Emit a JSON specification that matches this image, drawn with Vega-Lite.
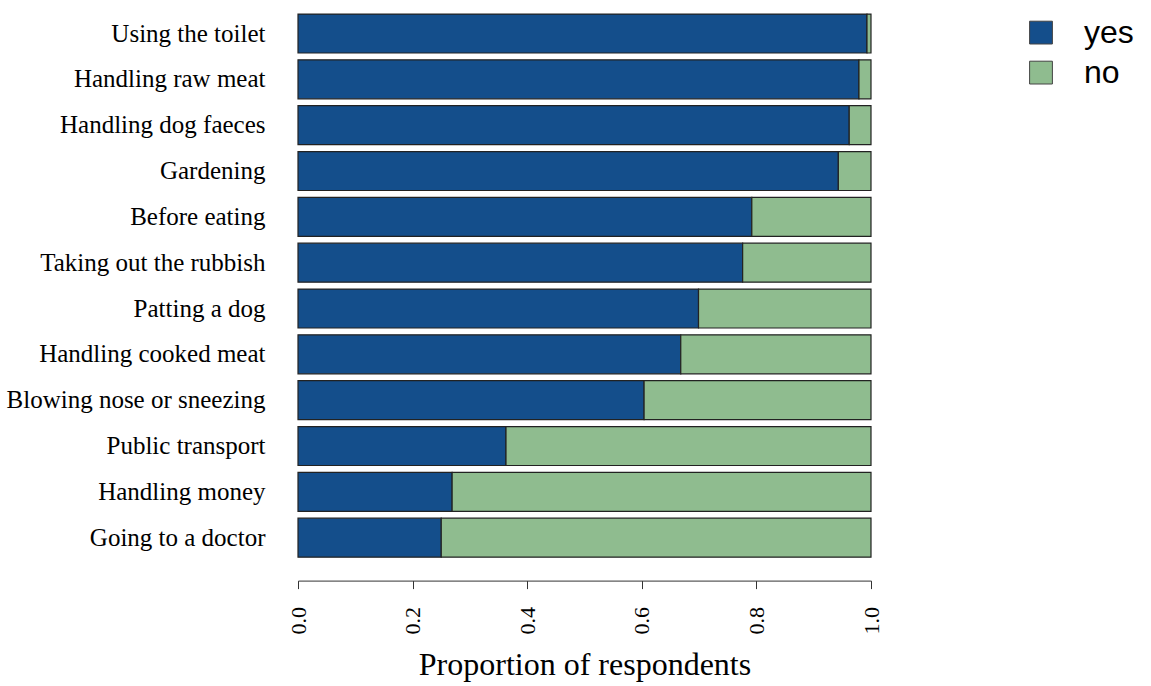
{
  "$schema": "https://vega.github.io/schema/vega-lite/v6.json",
  "width": 573,
  "height": 550,
  "autosize": {"type": "none"},
  "padding": {"left": 298, "top": 10.6, "right": 280, "bottom": 125.4},
  "background": "white",
  "data": {
    "values": [
      {"activity": "Using the toilet", "response": "yes", "order": 1, "proportion": 0.993},
      {"activity": "Using the toilet", "response": "no", "order": 2, "proportion": 0.007},
      {"activity": "Handling raw meat", "response": "yes", "order": 1, "proportion": 0.979},
      {"activity": "Handling raw meat", "response": "no", "order": 2, "proportion": 0.021},
      {"activity": "Handling dog faeces", "response": "yes", "order": 1, "proportion": 0.962},
      {"activity": "Handling dog faeces", "response": "no", "order": 2, "proportion": 0.038},
      {"activity": "Gardening", "response": "yes", "order": 1, "proportion": 0.943},
      {"activity": "Gardening", "response": "no", "order": 2, "proportion": 0.057},
      {"activity": "Before eating", "response": "yes", "order": 1, "proportion": 0.792},
      {"activity": "Before eating", "response": "no", "order": 2, "proportion": 0.208},
      {"activity": "Taking out the rubbish", "response": "yes", "order": 1, "proportion": 0.776},
      {"activity": "Taking out the rubbish", "response": "no", "order": 2, "proportion": 0.224},
      {"activity": "Patting a dog", "response": "yes", "order": 1, "proportion": 0.699},
      {"activity": "Patting a dog", "response": "no", "order": 2, "proportion": 0.301},
      {"activity": "Handling cooked meat", "response": "yes", "order": 1, "proportion": 0.668},
      {"activity": "Handling cooked meat", "response": "no", "order": 2, "proportion": 0.332},
      {"activity": "Blowing nose or sneezing", "response": "yes", "order": 1, "proportion": 0.604},
      {"activity": "Blowing nose or sneezing", "response": "no", "order": 2, "proportion": 0.396},
      {"activity": "Public transport", "response": "yes", "order": 1, "proportion": 0.363},
      {"activity": "Public transport", "response": "no", "order": 2, "proportion": 0.637},
      {"activity": "Handling money", "response": "yes", "order": 1, "proportion": 0.269},
      {"activity": "Handling money", "response": "no", "order": 2, "proportion": 0.731},
      {"activity": "Going to a doctor", "response": "yes", "order": 1, "proportion": 0.25},
      {"activity": "Going to a doctor", "response": "no", "order": 2, "proportion": 0.75}
    ]
  },
  "mark": {"type": "bar", "stroke": "#222222", "strokeWidth": 1.2},
  "encoding": {
    "y": {
      "field": "activity",
      "type": "nominal",
      "sort": ["Using the toilet", "Handling raw meat", "Handling dog faeces", "Gardening", "Before eating", "Taking out the rubbish", "Patting a dog", "Handling cooked meat", "Blowing nose or sneezing", "Public transport", "Handling money", "Going to a doctor"],
      "scale": {"paddingInner": 0.15, "paddingOuter": 0.075},
      "axis": {
        "title": null,
        "domain": false,
        "ticks": false,
        "labelPadding": 33,
        "labelFont": "Liberation Serif",
        "labelFontSize": 25,
        "labelColor": "black",
        "labelLimit": 400
      }
    },
    "x": {
      "field": "proportion",
      "type": "quantitative",
      "stack": "zero",
      "scale": {"domain": [0, 1], "nice": false, "zero": true},
      "axis": {
        "title": "Proportion of respondents",
        "values": [0, 0.2, 0.4, 0.6, 0.8, 1.0],
        "format": ".1f",
        "grid": false,
        "offset": 20,
        "domainColor": "#333333",
        "tickColor": "#333333",
        "tickSize": 8,
        "labelAngle": -90,
        "labelAlign": "right",
        "labelBaseline": "middle",
        "labelPadding": 18,
        "labelFont": "Liberation Serif",
        "labelFontSize": 22,
        "labelColor": "black",
        "titleFont": "Liberation Serif",
        "titleFontSize": 32,
        "titleFontWeight": "normal",
        "titleColor": "black",
        "titlePadding": 15
      }
    },
    "color": {
      "field": "response",
      "type": "nominal",
      "scale": {"domain": ["yes", "no"], "range": ["#144E8B", "#8FBC8F"]},
      "legend": {
        "title": null,
        "orient": "none",
        "legendX": 727,
        "legendY": 6,
        "symbolType": "square",
        "symbolSize": 520,
        "symbolStrokeColor": "#444444",
        "symbolStrokeWidth": 1,
        "symbolOpacity": 1,
        "labelFont": "Liberation Sans",
        "labelFontSize": 32,
        "labelColor": "black",
        "labelOffset": 27,
        "rowPadding": 8
      }
    },
    "order": {"field": "order", "type": "quantitative"}
  },
  "config": {"view": {"stroke": null}}
}
